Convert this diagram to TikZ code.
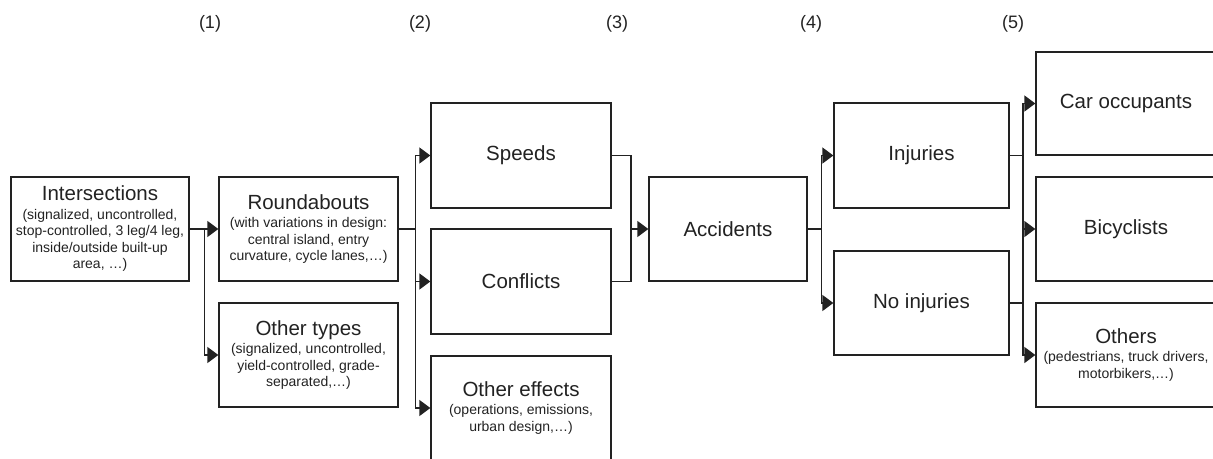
\documentclass[tikz,border=0pt]{standalone}
\usepackage{fontspec}
\setmainfont{Liberation Sans}
\usetikzlibrary{arrows.meta}
\definecolor{linegray}{HTML}{222222}
\newcommand{\smalltxt}{\fontsize{14}{16.5}\selectfont}
\newcommand{\titletxt}{\fontsize{20.5}{24}\selectfont}

\begin{document}
\begin{tikzpicture}[x=1pt, y=-1pt, >={Triangle[length=11pt,width=16pt]},
	line width=1.3pt, color=linegray,
	box/.style={draw, inner sep=1pt, align=center, minimum height=104pt, font=\titletxt},
	subbox/.style={box, font=\smalltxt},
	step label/.style={font=\fontsize{18}{20}\selectfont}]
\useasboundingbox (0,0) rectangle (1213,458);

	\foreach \n/\x in {1/210,2/420,3/617,4/811,5/1013}
	{
		\node[step label] (lab\n) at (\x,24){(\n)};
	}

\node[subbox, minimum width=178pt] (inter) at (100,229)
	{{\titletxt Intersections}\\[2pt](signalized, uncontrolled,\\stop-controlled, 3 leg/4 leg,\\inside/outside built-up\\area, …)};
\node[subbox, minimum width=179pt] (round) at (308.5,229)
	{{\titletxt Roundabouts}\\[2pt](with variations in design:\\central island, entry\\curvature, cycle lanes,…)};
\node[subbox, minimum width=179pt] (othtypes) at (308.5,355)
	{{\titletxt Other types}\\[2pt](signalized, uncontrolled,\\yield-controlled, grade-\\separated,…)};

\node[box, minimum width=180pt, minimum height=105pt] (speeds) at (521,155.5){Speeds};
\node[box, minimum width=180pt, minimum height=105pt] (conflicts) at (521,281.5){Conflicts};
\node[subbox, minimum width=180pt] (otheff) at (521,408)
	{{\titletxt Other effects}\\[2pt](operations, emissions,\\urban design,…)};

\node[box, minimum width=158pt] (acc) at (728,229){Accidents};
\node[box, minimum width=175pt, minimum height=105pt] (inj) at (921.5,155.5){Injuries};
\node[box, minimum width=175pt] (noinj) at (921.5,303){No injuries};

\node[box, minimum width=180pt, minimum height=103pt] (car) at (1126,103.5){Car occupants};
\node[box, minimum width=180pt] (bic) at (1126,229){Bicyclists};
\node[subbox, minimum width=180pt] (others) at (1126,355)
	{{\titletxt Others}\\[2pt](pedestrians, truck drivers,\\motorbikers,…)};

% (1) -> (2)
\draw [->] (inter.east)--(round.west);
\draw [->] (inter.east)--++(15,0) |- (othtypes.west);

% (2) -> (3)
\draw (round.east)--++(17,0) coordinate (j2);
\draw [->] (j2) |- (speeds.west);
\draw [->] (j2) |- (conflicts.west);
\draw [->] (j2) |- (otheff.west);

% (3) -> accidents
\coordinate (j3) at (631,229);
\draw (speeds.east) -| (j3) |- (conflicts.east);
\draw [->] (j3)--(acc.west);

% (4)
\draw (acc.east)--++(14,0) coordinate (j4);
\draw [->] (j4) |- (inj.west);
\draw [->] (j4) |- (noinj.west);

% (5)
\coordinate (j5) at (1023,229);
\draw (inj.east)--++(14,0);
\draw (noinj.east)--++(14,0);
\draw [->] (j5) |- (car.west);
\draw [->] (j5)--(bic.west);
\draw [->] (j5) |- (others.west);

	\end{tikzpicture}
\end{document}
